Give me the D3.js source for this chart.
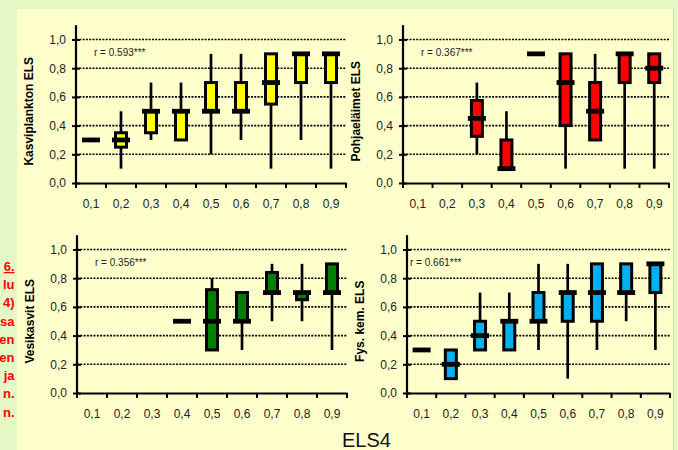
<!DOCTYPE html>
<html>
<head>
<meta charset="utf-8">
<script src="https://cdn.jsdelivr.net/npm/d3@7"></script>
<style>
  body { margin: 0; background: #e4f8c6; }
  svg { display: block; font-family: "Liberation Sans", Arial, sans-serif; }
</style>
</head>
<body>
<svg id="chart" width="678" height="450"></svg>
<script>
// ELS4 classes on the x axis
var els4 = ["0,1", "0,2", "0,3", "0,4", "0,5", "0,6", "0,7", "0,8", "0,9"];
var yTicks = [0, 0.2, 0.4, 0.6, 0.8, 1.0];

// each row: [min, q1, median, q3, max], null = no observations
var kasviplankton = [
  [null, null, 0.3, null, null],
  [0.1, 0.25, 0.3, 0.35, 0.5],
  [0.3, 0.35, 0.5, 0.5, 0.7],
  [0.3, 0.3, 0.5, 0.5, 0.7],
  [0.2, 0.5, 0.5, 0.7, 0.9],
  [0.3, 0.5, 0.5, 0.7, 0.9],
  [0.1, 0.55, 0.7, 0.9, 0.9],
  [0.3, 0.7, 0.9, 0.9, 0.9],
  [0.1, 0.7, 0.9, 0.9, 0.9]
];
var pohjaelaimet = [
  null,
  null,
  [0.2, 0.325, 0.45, 0.575, 0.7],
  [0.1, 0.1, 0.1, 0.3, 0.5],
  [null, null, 0.9, null, null],
  [0.1, 0.4, 0.7, 0.9, 0.9],
  [0.3, 0.3, 0.5, 0.7, 0.9],
  [0.1, 0.7, 0.9, 0.9, 0.9],
  [0.1, 0.7, 0.8, 0.9, 0.9]
];
var vesikasvit = [
  null,
  null,
  null,
  [null, null, 0.5, null, null],
  [0.3, 0.3, 0.5, 0.72, 0.8],
  [0.3, 0.5, 0.5, 0.7, 0.7],
  [0.5, 0.7, 0.7, 0.84, 0.9],
  [0.5, 0.65, 0.7, 0.7, 0.9],
  [0.3, 0.7, 0.7, 0.9, 0.9]
];
var fysKem = [
  [null, null, 0.3, null, null],
  [0.1, 0.1, 0.2, 0.3, 0.3],
  [0.3, 0.3, 0.4, 0.5, 0.7],
  [0.3, 0.3, 0.5, 0.5, 0.7],
  [0.3, 0.5, 0.5, 0.7, 0.9],
  [0.1, 0.5, 0.7, 0.7, 0.9],
  [0.3, 0.5, 0.7, 0.9, 0.9],
  [0.5, 0.7, 0.7, 0.9, 0.9],
  [0.3, 0.7, 0.9, 0.9, 0.9]
];

var titles = ["Kasviplankton ELS", "Pohjaeläimet ELS", "Vesikasvit ELS", "Fys. kem. ELS"];
var rLabels = ["r = 0.593***", "r = 0.367***", "r = 0.356***", "r = 0.661***"];
var colors = ["#ffff00", "#ff0000", "#007f00", "#00b0f0"];
var sideText = ["6.", "lu", "4)", "sa", "en", "en", "ja", "n.", "n."];

var svg = d3.select("#chart");

// yellow slide area
svg.append("rect").attr("x", 17).attr("y", 9).attr("width", 656).attr("height", 441).attr("fill", "#ffffcc");
svg.append("line").attr("x1", 673.5).attr("x2", 673.5).attr("y1", 9).attr("y2", 450)
  .attr("stroke", "#c8d4dc").attr("stroke-width", 1);

// cut-off caption text on the left
svg.append("g").selectAll("text")
  .data(sideText)
  .enter().append("text")
    .attr("x", 14.5)
    .attr("y", function(d, i) { return 271 + i * 18.2; })
    .attr("text-anchor", "end")
    .attr("font-size", 13)
    .attr("font-weight", "bold")
    .attr("fill", "#ff0000")
    .attr("text-decoration", function(d, i) { return i === 0 ? "underline" : null; })
    .text(function(d) { return d; });

var panels = [
  {data: kasviplankton, left: 76, right: 346, bottom: 183},
  {data: pohjaelaimet, left: 403, right: 669, bottom: 183},
  {data: vesikasvit, left: 77, right: 347, bottom: 393},
  {data: fysKem, left: 407, right: 670, bottom: 393}
];

panels.forEach(function(p, pi) {
  var g = svg.append("g");
  var x = d3.scaleBand().domain(els4).range([p.left, p.right]).padding(0);
  var y = d3.scaleLinear().domain([0, 1.1]).range([p.bottom, p.bottom - 1.1 * 143.5]);
  var fmt = function(d) { return d3.format(".1f")(d).replace(".", ","); };

  // dotted gridlines
  g.append("g").selectAll("line")
    .data(yTicks.slice(1))
    .enter().append("line")
      .attr("x1", p.left).attr("x2", p.right)
      .attr("y1", function(d) { return y(d); }).attr("y2", function(d) { return y(d); })
      .attr("stroke", "#000").attr("stroke-width", 1.6)
      .attr("stroke-dasharray", "2,1.3");

  // y axis
  var ya = g.append("g")
      .attr("transform", "translate(" + p.left + ",0)")
      .call(d3.axisLeft(y).tickValues(yTicks).tickFormat(fmt).tickSize(4).tickPadding(6));
  ya.select(".domain").attr("stroke-width", 2.2).attr("d", "M0," + y(1.1) + "V" + y(0));
  ya.selectAll(".tick line").attr("x2", 4).attr("x1", -4).attr("stroke-width", 2);
  ya.selectAll(".tick text").attr("font-size", 12).attr("fill", "#222");

  // x axis, ticks sit between the classes
  var xa = g.append("g")
      .attr("transform", "translate(0," + p.bottom + ")")
      .call(d3.axisBottom(x).tickSize(0).tickPadding(16));
  xa.select(".domain").attr("stroke-width", 2.2);
  xa.selectAll(".tick text").attr("font-size", 12).attr("fill", "#222");
  xa.append("g").selectAll("line")
    .data(els4.map(function(d) { return x(d); }).concat([x.range()[1]]))
    .enter().append("line")
      .attr("x1", function(d) { return d; }).attr("x2", function(d) { return d; })
      .attr("y1", 0).attr("y2", 5)
      .attr("stroke", "#000").attr("stroke-width", 2);

  // axis title
  g.append("text")
    .attr("transform", "translate(" + (p.left - 43) + "," + y(0.5) + ") rotate(-90)")
    .attr("text-anchor", "middle")
    .attr("font-size", 12)
    .attr("font-weight", "bold")
    .attr("fill", "#000")
    .text(titles[pi]);

  // correlation
  g.append("text")
    .attr("x", pi === 3 ? p.left + 3 : p.left + 18)
    .attr("y", y(0.885))
    .attr("font-size", 10)
    .attr("fill", "#222")
    .text(rLabels[pi]);

  var rows = p.data.map(function(d, i) { return {cat: els4[i], v: d}; })
    .filter(function(d) { return d.v !== null; });
  var cx = function(d) { return x(d.cat) + x.bandwidth() / 2; };
  var hasBox = function(d) { return d.v[1] !== null; };

  // whiskers
  g.append("g").selectAll("line")
    .data(rows.filter(hasBox))
    .enter().append("line")
      .attr("x1", cx).attr("x2", cx)
      .attr("y1", function(d) { return y(d.v[0]); })
      .attr("y2", function(d) { return y(d.v[4]); })
      .attr("stroke", "#000").attr("stroke-width", 2.7);

  // boxes
  g.append("g").selectAll("rect")
    .data(rows.filter(hasBox))
    .enter().append("rect")
      .attr("x", function(d) { return cx(d) - 5.5; })
      .attr("width", 11)
      .attr("y", function(d) { return y(d.v[3]); })
      .attr("height", function(d) { return y(d.v[1]) - y(d.v[3]); })
      .attr("fill", colors[pi])
      .attr("stroke", "#000").attr("stroke-width", 3);

  // medians
  g.append("g").selectAll("line")
    .data(rows)
    .enter().append("line")
      .attr("x1", function(d) { return cx(d) - 9; })
      .attr("x2", function(d) { return cx(d) + 9; })
      .attr("y1", function(d) { return y(d.v[2]); })
      .attr("y2", function(d) { return y(d.v[2]); })
      .attr("stroke", "#000").attr("stroke-width", 4.8);
});

svg.append("text")
  .attr("x", 342)
  .attr("y", 447)
  .attr("font-size", 20)
  .attr("fill", "#111")
  .text("ELS4");
</script>
</body>
</html>
